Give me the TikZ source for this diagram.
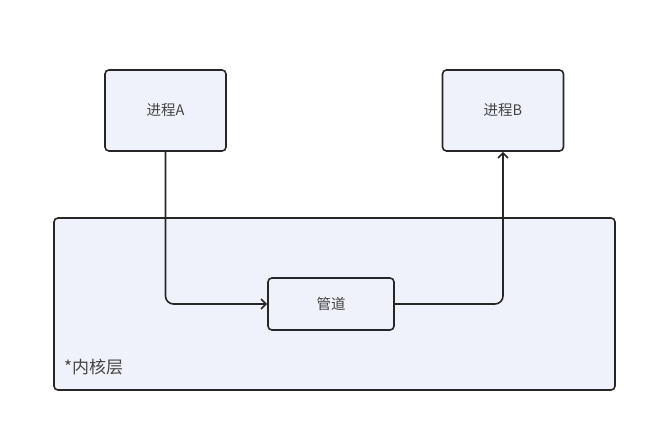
\documentclass[tikz,border=0pt]{standalone}
\usepackage{fontspec}
\newfontfamily\cjk{Noto Sans CJK SC}
\usetikzlibrary{arrows.meta}
\definecolor{boxfill}{HTML}{EFF2FA}
\definecolor{boxline}{HTML}{262626}
\definecolor{labeltext}{HTML}{444444}
\tikzset{
  procbox/.style={draw=boxline, fill=boxfill, line width=1.6pt, rounded corners=4pt,
    minimum width=121pt, minimum height=81pt, font=\cjk\fontsize{14.5}{16}\selectfont, text=labeltext},
  pipebox/.style={procbox, minimum width=126pt, minimum height=52pt},
  flow/.style={draw=boxline, line width=1.6pt, rounded corners=8pt, -{Straight Barb[length=5pt,width=10pt]}}
}
\begin{document}
\begin{tikzpicture}[x=1pt,y=-1pt]
\useasboundingbox (0,0) rectangle (650,434);

\draw[draw=boxline, fill=boxfill, line width=1.6pt, rounded corners=4pt] (54,218) rectangle (615,390);
\node[font=\cjk\fontsize{17}{19}\selectfont, text=labeltext, anchor=west, inner sep=0pt] (kernel) at (64,367) {*内核层};

\node[procbox] (procA) at (165.5,110.5) {进程A};
\node[procbox] (procB) at (503,110.5) {进程B};
\node[pipebox] (pipe) at (331,304) {管道};

\draw[flow] (procA.south) |- (pipe.west);
\draw[flow] (pipe.east) -| (procB.south);
\end{tikzpicture}
\end{document}
